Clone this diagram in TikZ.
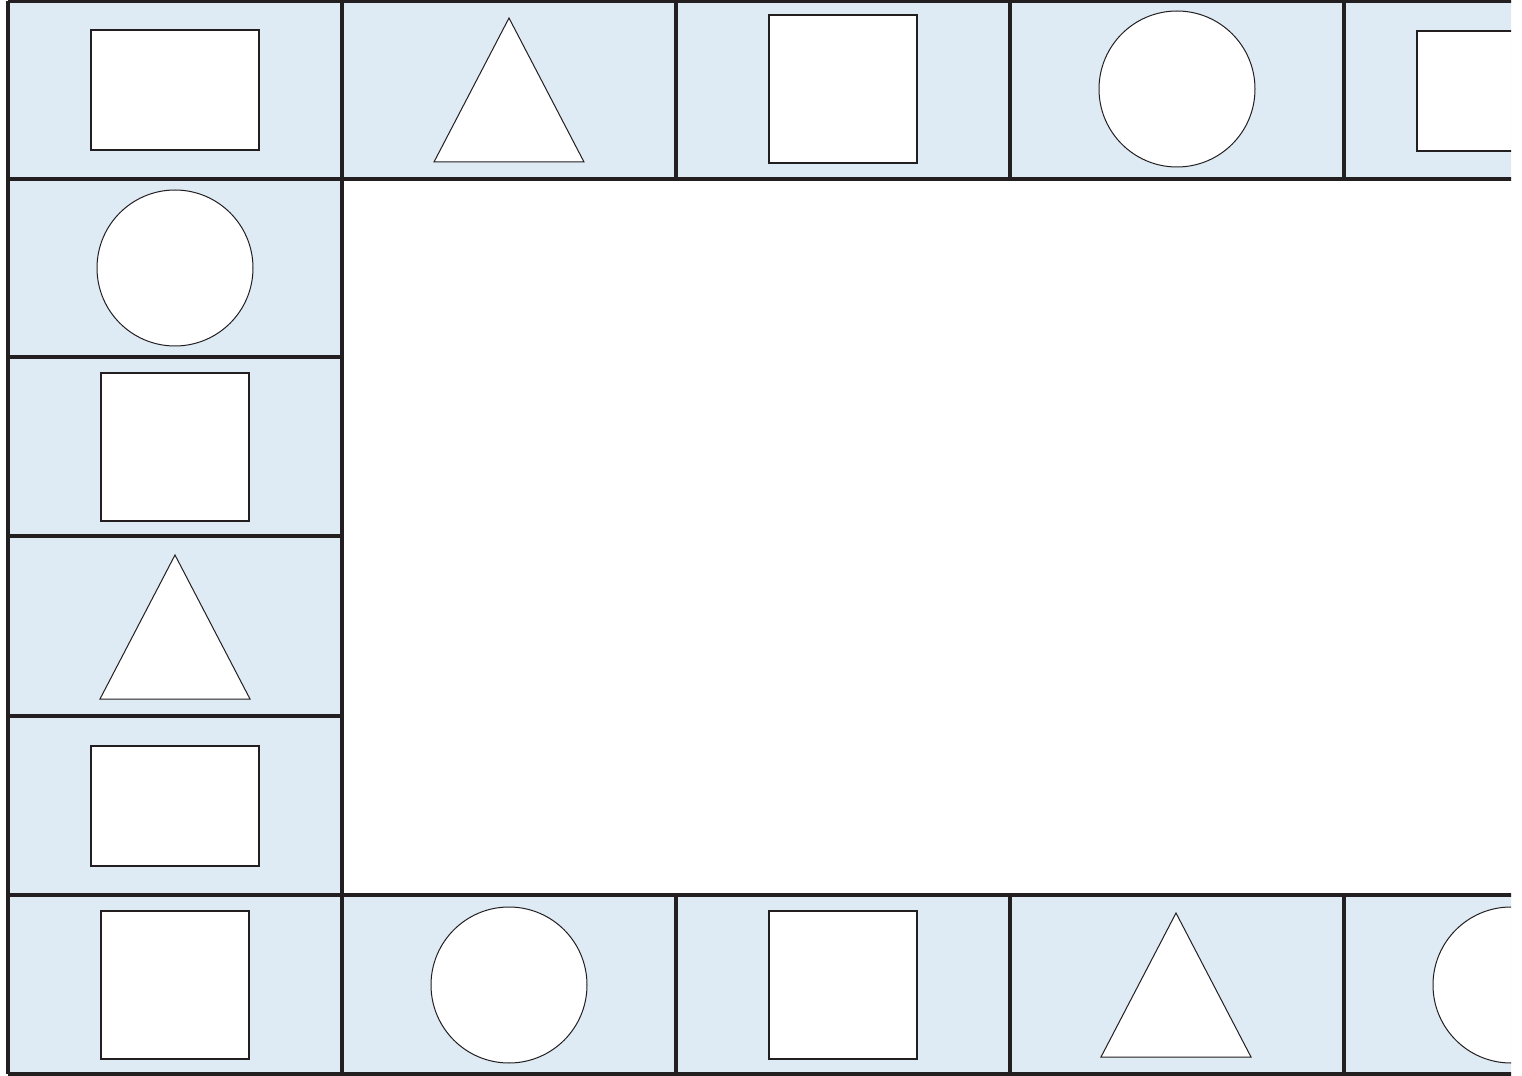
\documentclass[tikz,border=0pt]{standalone}
\usepackage{xcolor}
\usepackage{tikz}
\definecolor{caseb}{RGB}{222,234,244}
\definecolor{trait}{RGB}{35,31,32}
\newcommand{\rond}[2]{%
  \draw[trait,fill=white,line width=0.1mm](#1,#2) circle (78);}
\newcommand{\carre}[2]{%
  \draw[trait,fill=white,line width=0.14mm](#1-74,#2-74) rectangle (#1+74,#2+74);}
\newcommand{\pave}[2]{%
  \draw[trait,fill=white,line width=0.14mm](#1-84,#2-60) rectangle (#1+84,#2+60);}
\newcommand{\trig}[2]{%
  \draw[trait,fill=white,line width=0.1mm](#1,#2-72)--(#1+75,#2+72)--(#1-75,#2+72)--cycle;}

\begin{document}
\begin{tikzpicture}[x=0.1mm,y=-0.1mm]
      \useasboundingbox (0,0) rectangle (1522,1076);
      \begin{scope}
      \clip (0,0) rectangle (1511,1076);
      % cases
      \fill[caseb](8,1) rectangle (1700,179);
      \fill[caseb](8,179) rectangle (342,895);
      \fill[caseb](8,895) rectangle (1700,1074);
      % formes du haut
      \pave{175}{90}
      \trig{509}{90}
      \carre{843}{89}
      \rond{1177}{89}
      \pave{1501}{91}
      % colonne de gauche
      \rond{175}{268}
      \carre{175}{447}
      \trig{175}{627}
      \pave{175}{806}
      % formes du bas
      \carre{175}{985}
      \rond{509}{985}
      \carre{843}{985}
      \trig{1176}{985}
      \rond{1511}{985}
      % traits
      \foreach \yy in {1,179,895,1074}{\draw[trait,line width=0.32mm](8,\yy)--(1700,\yy);}
      \foreach \yy in {357,536,716}{\draw[trait,line width=0.32mm](8,\yy)--(342,\yy);}
      \draw[trait,line width=0.32mm](8,1)--(8,1074);
      \draw[trait,line width=0.32mm](342,1)--(342,1074);
      \foreach \xx in {676,1010,1344}{
        \draw[trait,line width=0.32mm](\xx,1)--(\xx,179);
        \draw[trait,line width=0.32mm](\xx,895)--(\xx,1074);}
      \end{scope}
    \end{tikzpicture}
\end{document}
